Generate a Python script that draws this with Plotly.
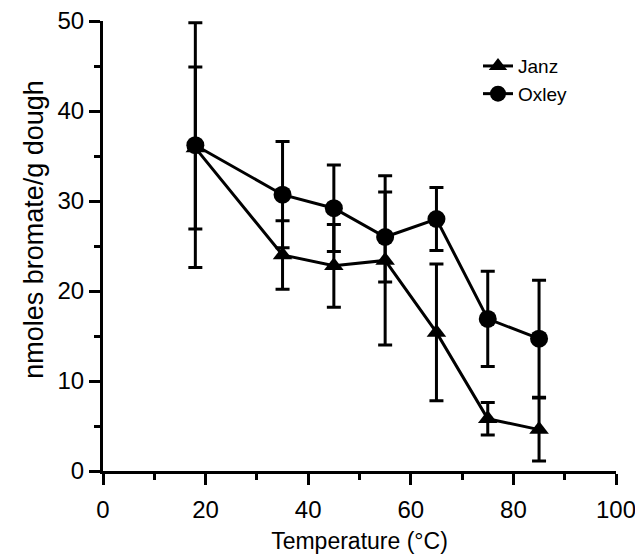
import plotly.graph_objects as go

temps = [18, 35, 45, 55, 65, 75, 85]
janz = [35.9, 24.0, 22.8, 23.4, 15.4, 5.8, 4.6]
janz_err = [9.0, 3.8, 4.6, 9.4, 7.6, 1.8, 3.5]
oxley = [36.2, 30.7, 29.2, 26.0, 28.0, 16.9, 14.7]
oxley_err = [13.6, 5.9, 4.8, 5.0, 3.5, 5.3, 6.5]

FONT = "Liberation Sans, Arial, Helvetica, sans-serif"

fig = go.Figure()
fig.add_trace(go.Scatter(
    x=temps, y=janz, name="Janz", mode="lines+markers",
    line=dict(color="black", width=3),
    marker=dict(symbol="triangle-up", size=17, color="black"),
    error_y=dict(type="data", array=janz_err, visible=True,
                 color="black", thickness=3, width=7),
))
fig.add_trace(go.Scatter(
    x=temps, y=oxley, name="Oxley", mode="lines+markers",
    line=dict(color="black", width=3),
    marker=dict(symbol="circle", size=18, color="black"),
    error_y=dict(type="data", array=oxley_err, visible=True,
                 color="black", thickness=3, width=7),
))

fig.update_layout(
    width=643, height=556,
    margin=dict(l=95, r=35, t=13, b=93, autoexpand=False),
    paper_bgcolor="white", plot_bgcolor="white",
    font=dict(family=FONT, size=23, color="black"),
    showlegend=True,
    legend=dict(x=0.731, y=0.942, xanchor="left", yanchor="top",
                bgcolor="rgba(0,0,0,0)", font=dict(size=19),
                itemsizing="trace"),
    annotations=[dict(
        text="nmoles bromate/g dough", textangle=-90,
        xref="paper", yref="paper", x=-0.1345, y=0.536,
        xanchor="center", yanchor="middle", showarrow=False,
        font=dict(size=27),
    )],
)
fig.update_xaxes(
    range=[0, 100], dtick=20, tick0=0,
    showline=True, linecolor="black", linewidth=3,
    ticks="outside", ticklen=11, tickwidth=3, tickcolor="black",
    minor=dict(dtick=10, tick0=0, ticks="outside", ticklen=6, tickwidth=3, tickcolor="black"),
    showgrid=False, zeroline=False, automargin=False,
    tickfont=dict(size=24), ticklabelstandoff=4, ticklabeloverflow="allow",
    title=dict(text="Temperature (°C)", standoff=12, font=dict(size=23)),
)
fig.update_yaxes(
    range=[0, 50], dtick=10, tick0=0,
    showline=True, linecolor="black", linewidth=3,
    ticks="outside", ticklen=11, tickwidth=3, tickcolor="black",
    minor=dict(dtick=5, tick0=0, ticks="outside", ticklen=6, tickwidth=3, tickcolor="black"),
    showgrid=False, zeroline=False, automargin=False,
    tickfont=dict(size=24), ticklabeloverflow="allow",
)

fig.write_html("out.html")
